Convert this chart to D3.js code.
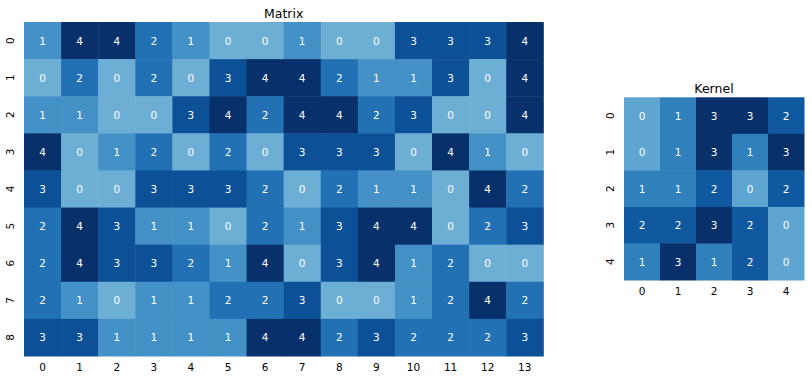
<!DOCTYPE html>
<html><head><meta charset="utf-8">
<script src="https://cdn.jsdelivr.net/npm/d3@7"></script>
<style>body{margin:0;background:#fff}text{font-family:"DejaVu Sans",sans-serif}</style>
</head><body>
<svg id="c" width="812" height="380"></svg>
<script>
const matrixRows = [0,1,2,3,4,5,6,7,8];
const matrixCols = [0,1,2,3,4,5,6,7,8,9,10,11,12,13];
const matrixValues = [
  [1,4,4,2,1,0,0,1,0,0,3,3,3,4],
  [0,2,0,2,0,3,4,4,2,1,1,3,0,4],
  [1,1,0,0,3,4,2,4,4,2,3,0,0,4],
  [4,0,1,2,0,2,0,3,3,3,0,4,1,0],
  [3,0,0,3,3,3,2,0,2,1,1,0,4,2],
  [2,4,3,1,1,0,2,1,3,4,4,0,2,3],
  [2,4,3,3,2,1,4,0,3,4,1,2,0,0],
  [2,1,0,1,1,2,2,3,0,0,1,2,4,2],
  [3,3,1,1,1,1,4,4,2,3,2,2,2,3]
];
const kernelRows = [0,1,2,3,4];
const kernelCols = [0,1,2,3,4];
const kernelValues = [
  [0,1,3,3,2],
  [0,1,3,1,3],
  [1,1,2,0,2],
  [2,2,3,2,0],
  [1,3,1,2,0]
];

const svg = d3.select("#c");

function heatmap(opts){
  const {values, rows, cols, x0, x1, y0, y1, title, tRange} = opts;
  const g = svg.append("g");
  const x = d3.scaleBand().domain(cols).range([x0, x1]);
  const y = d3.scaleBand().domain(rows).range([y0, y1]);
  const vmax = d3.max(values.flat()), vmin = d3.min(values.flat());
  const t = d3.scaleLinear().domain([vmin, vmax]).range(tRange);
  const cells = [];
  values.forEach((r,i)=>r.forEach((v,j)=>cells.push({i:rows[i], j:cols[j], v})));
  g.selectAll("rect").data(cells).join("rect")
    .attr("x", d=>x(d.j)).attr("y", d=>y(d.i))
    .attr("width", x.bandwidth()+0.5).attr("height", y.bandwidth()+0.5)
    .attr("fill", d=>d3.interpolateBlues(t(d.v)));
  g.selectAll("text.a").data(cells).join("text").attr("class","a")
    .attr("x", d=>x(d.j)+x.bandwidth()/2).attr("y", d=>y(d.i)+y.bandwidth()/2)
    .attr("text-anchor","middle").attr("dominant-baseline","central")
    .attr("font-size", 10.5).attr("fill","#fff").text(d=>d.v);
  const xa = g.append("g").attr("transform",`translate(0,${y1})`)
    .call(d3.axisBottom(x).tickSize(0).tickPadding(8));
  xa.select(".domain").remove();
  xa.selectAll("text").attr("font-size",10.5).attr("fill","#000").style("font-family","DejaVu Sans");
  const ya = g.append("g").attr("transform",`translate(${x0},0)`)
    .call(d3.axisLeft(y).tickSize(0).tickPadding(0));
  ya.select(".domain").remove();
  ya.selectAll(".tick text").attr("x",null).attr("dy",null)
    .attr("text-anchor","middle").attr("dominant-baseline","central")
    .attr("transform","translate(-14,0) rotate(-90)")
    .attr("font-size",10.5).attr("fill","#000").style("font-family","DejaVu Sans");
  g.append("text").attr("x",(x0+x1)/2).attr("y",y0-4.5)
    .attr("text-anchor","middle").attr("font-size",12.5).attr("fill","#000").text(title);
}

heatmap({values: matrixValues, rows: matrixRows, cols: matrixCols,
  x0: 24, x1: 543.3, y0: 22, y1: 356, title: "Matrix", tRange:[0.5,1]});
heatmap({values: kernelValues, rows: kernelRows, cols: kernelCols,
  x0: 624, x1: 804, y0: 97.3, y1: 280, title: "Kernel", tRange:[0.54,1]});
</script>
</body></html>
